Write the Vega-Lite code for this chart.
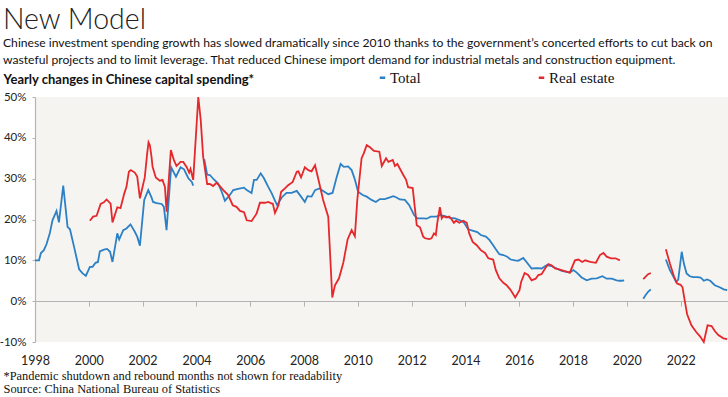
{
 "$schema": "https://vega.github.io/schema/vega-lite/v6.json",
 "width": 693, "height": 245,
 "autosize": {"type": "none"},
 "padding": {"left": 35, "top": 97, "right": 0, "bottom": 55},
 "background": "white",
 "title": {
  "text": "New Model",
  "subtitle": ["Chinese investment spending growth has slowed dramatically since 2010 thanks to the government’s concerted efforts to cut back on", "wasteful projects and to limit leverage. That reduced Chinese import demand for industrial metals and construction equipment."],
  "anchor": "start", "frame": "group", "dx": -32, "font": "Lato", "fontSize": 28.5, "fontWeight": 300, "color": "#222",
  "subtitleFont": "Lato", "subtitleFontSize": 12.15, "subtitleColor": "#111", "subtitleLineHeight": 16.5, "subtitlePadding": 3, "offset": 4
 },
 "config": {"view": {"fill": "#f6f4f0", "stroke": null}},
 "data": {"values": [
  {"series":"Total","segment":1,"year":1998.0,"value":10.0},
  {"series":"Total","segment":1,"year":1998.15,"value":10.0},
  {"series":"Total","segment":1,"year":1998.22,"value":11.8},
  {"series":"Total","segment":1,"year":1998.33,"value":12.5},
  {"series":"Total","segment":1,"year":1998.43,"value":14.0},
  {"series":"Total","segment":1,"year":1998.55,"value":16.6},
  {"series":"Total","segment":1,"year":1998.65,"value":19.8},
  {"series":"Total","segment":1,"year":1998.8,"value":22.1},
  {"series":"Total","segment":1,"year":1998.89,"value":19.3},
  {"series":"Total","segment":1,"year":1999.05,"value":28.3},
  {"series":"Total","segment":1,"year":1999.21,"value":18.2},
  {"series":"Total","segment":1,"year":1999.3,"value":17.6},
  {"series":"Total","segment":1,"year":1999.48,"value":12.5},
  {"series":"Total","segment":1,"year":1999.64,"value":7.8},
  {"series":"Total","segment":1,"year":1999.77,"value":6.8},
  {"series":"Total","segment":1,"year":1999.89,"value":6.2},
  {"series":"Total","segment":1,"year":2000.04,"value":8.4},
  {"series":"Total","segment":1,"year":2000.14,"value":8.4},
  {"series":"Total","segment":1,"year":2000.25,"value":9.4},
  {"series":"Total","segment":1,"year":2000.34,"value":9.6},
  {"series":"Total","segment":1,"year":2000.41,"value":12.2},
  {"series":"Total","segment":1,"year":2000.56,"value":12.6},
  {"series":"Total","segment":1,"year":2000.68,"value":12.8},
  {"series":"Total","segment":1,"year":2000.79,"value":12.1},
  {"series":"Total","segment":1,"year":2000.88,"value":9.6},
  {"series":"Total","segment":1,"year":2001.06,"value":16.6},
  {"series":"Total","segment":1,"year":2001.13,"value":15.1},
  {"series":"Total","segment":1,"year":2001.28,"value":17.4},
  {"series":"Total","segment":1,"year":2001.4,"value":17.8},
  {"series":"Total","segment":1,"year":2001.55,"value":18.8},
  {"series":"Total","segment":1,"year":2001.71,"value":17.0},
  {"series":"Total","segment":1,"year":2001.8,"value":15.8},
  {"series":"Total","segment":1,"year":2001.9,"value":13.6},
  {"series":"Total","segment":1,"year":2002.06,"value":24.8},
  {"series":"Total","segment":1,"year":2002.21,"value":27.2},
  {"series":"Total","segment":1,"year":2002.33,"value":25.4},
  {"series":"Total","segment":1,"year":2002.39,"value":24.3},
  {"series":"Total","segment":1,"year":2002.52,"value":24.0},
  {"series":"Total","segment":1,"year":2002.71,"value":23.8},
  {"series":"Total","segment":1,"year":2002.79,"value":23.1},
  {"series":"Total","segment":1,"year":2002.89,"value":17.4},
  {"series":"Total","segment":1,"year":2003.06,"value":32.8},
  {"series":"Total","segment":1,"year":2003.24,"value":30.5},
  {"series":"Total","segment":1,"year":2003.41,"value":32.8},
  {"series":"Total","segment":1,"year":2003.54,"value":32.3},
  {"series":"Total","segment":1,"year":2003.7,"value":30.1},
  {"series":"Total","segment":1,"year":2003.83,"value":29.2},
  {"series":"Total","segment":1,"year":2003.88,"value":28.3},
  {"series":"Total","segment":2,"year":2004.29,"value":34.8},
  {"series":"Total","segment":2,"year":2004.4,"value":31.0},
  {"series":"Total","segment":2,"year":2004.5,"value":30.9},
  {"series":"Total","segment":2,"year":2004.65,"value":29.8},
  {"series":"Total","segment":2,"year":2004.81,"value":28.8},
  {"series":"Total","segment":2,"year":2004.94,"value":26.8},
  {"series":"Total","segment":2,"year":2005.06,"value":24.6},
  {"series":"Total","segment":2,"year":2005.21,"value":25.7},
  {"series":"Total","segment":2,"year":2005.37,"value":27.2},
  {"series":"Total","segment":2,"year":2005.55,"value":27.5},
  {"series":"Total","segment":2,"year":2005.77,"value":27.8},
  {"series":"Total","segment":2,"year":2005.87,"value":27.2},
  {"series":"Total","segment":2,"year":2006.05,"value":26.5},
  {"series":"Total","segment":2,"year":2006.14,"value":29.7},
  {"series":"Total","segment":2,"year":2006.24,"value":29.7},
  {"series":"Total","segment":2,"year":2006.39,"value":31.3},
  {"series":"Total","segment":2,"year":2006.51,"value":30.1},
  {"series":"Total","segment":2,"year":2006.67,"value":28.0},
  {"series":"Total","segment":2,"year":2006.8,"value":26.4},
  {"series":"Total","segment":2,"year":2006.92,"value":24.6},
  {"series":"Total","segment":2,"year":2007.0,"value":23.5},
  {"series":"Total","segment":2,"year":2007.17,"value":25.4},
  {"series":"Total","segment":2,"year":2007.35,"value":26.5},
  {"series":"Total","segment":2,"year":2007.54,"value":26.5},
  {"series":"Total","segment":2,"year":2007.73,"value":27.0},
  {"series":"Total","segment":2,"year":2007.89,"value":25.6},
  {"series":"Total","segment":2,"year":2008.03,"value":24.3},
  {"series":"Total","segment":2,"year":2008.13,"value":25.7},
  {"series":"Total","segment":2,"year":2008.28,"value":25.6},
  {"series":"Total","segment":2,"year":2008.41,"value":27.2},
  {"series":"Total","segment":2,"year":2008.57,"value":27.6},
  {"series":"Total","segment":2,"year":2008.71,"value":27.0},
  {"series":"Total","segment":2,"year":2008.9,"value":26.2},
  {"series":"Total","segment":2,"year":2009.06,"value":26.5},
  {"series":"Total","segment":2,"year":2009.21,"value":30.3},
  {"series":"Total","segment":2,"year":2009.36,"value":33.6},
  {"series":"Total","segment":2,"year":2009.48,"value":32.9},
  {"series":"Total","segment":2,"year":2009.64,"value":33.0},
  {"series":"Total","segment":2,"year":2009.77,"value":32.1},
  {"series":"Total","segment":2,"year":2009.89,"value":29.8},
  {"series":"Total","segment":2,"year":2010.01,"value":26.8},
  {"series":"Total","segment":2,"year":2010.18,"value":26.0},
  {"series":"Total","segment":2,"year":2010.33,"value":25.6},
  {"series":"Total","segment":2,"year":2010.51,"value":24.8},
  {"series":"Total","segment":2,"year":2010.67,"value":24.3},
  {"series":"Total","segment":2,"year":2010.82,"value":25.0},
  {"series":"Total","segment":2,"year":2011.0,"value":25.0},
  {"series":"Total","segment":2,"year":2011.19,"value":25.4},
  {"series":"Total","segment":2,"year":2011.32,"value":25.7},
  {"series":"Total","segment":2,"year":2011.44,"value":25.4},
  {"series":"Total","segment":2,"year":2011.56,"value":24.9},
  {"series":"Total","segment":2,"year":2011.75,"value":24.8},
  {"series":"Total","segment":2,"year":2011.91,"value":23.5},
  {"series":"Total","segment":2,"year":2012.09,"value":21.1},
  {"series":"Total","segment":2,"year":2012.21,"value":20.3},
  {"series":"Total","segment":2,"year":2012.43,"value":20.3},
  {"series":"Total","segment":2,"year":2012.56,"value":20.2},
  {"series":"Total","segment":2,"year":2012.71,"value":20.7},
  {"series":"Total","segment":2,"year":2012.93,"value":20.7},
  {"series":"Total","segment":2,"year":2013.05,"value":21.1},
  {"series":"Total","segment":2,"year":2013.24,"value":20.8},
  {"series":"Total","segment":2,"year":2013.43,"value":20.4},
  {"series":"Total","segment":2,"year":2013.61,"value":20.3},
  {"series":"Total","segment":2,"year":2013.8,"value":19.8},
  {"series":"Total","segment":2,"year":2013.95,"value":19.2},
  {"series":"Total","segment":2,"year":2014.1,"value":17.6},
  {"series":"Total","segment":2,"year":2014.29,"value":17.2},
  {"series":"Total","segment":2,"year":2014.44,"value":16.9},
  {"series":"Total","segment":2,"year":2014.57,"value":16.2},
  {"series":"Total","segment":2,"year":2014.76,"value":15.8},
  {"series":"Total","segment":2,"year":2014.89,"value":15.0},
  {"series":"Total","segment":2,"year":2015.03,"value":13.7},
  {"series":"Total","segment":2,"year":2015.13,"value":12.7},
  {"series":"Total","segment":2,"year":2015.26,"value":11.5},
  {"series":"Total","segment":2,"year":2015.41,"value":11.3},
  {"series":"Total","segment":2,"year":2015.55,"value":10.9},
  {"series":"Total","segment":2,"year":2015.68,"value":10.2},
  {"series":"Total","segment":2,"year":2015.84,"value":10.0},
  {"series":"Total","segment":2,"year":2015.96,"value":9.9},
  {"series":"Total","segment":2,"year":2016.15,"value":10.6},
  {"series":"Total","segment":2,"year":2016.27,"value":9.6},
  {"series":"Total","segment":2,"year":2016.46,"value":8.0},
  {"series":"Total","segment":2,"year":2016.65,"value":8.1},
  {"series":"Total","segment":2,"year":2016.83,"value":8.0},
  {"series":"Total","segment":2,"year":2017.02,"value":8.8},
  {"series":"Total","segment":2,"year":2017.2,"value":8.6},
  {"series":"Total","segment":2,"year":2017.39,"value":8.0},
  {"series":"Total","segment":2,"year":2017.58,"value":7.4},
  {"series":"Total","segment":2,"year":2017.76,"value":7.2},
  {"series":"Total","segment":2,"year":2017.88,"value":7.0},
  {"series":"Total","segment":2,"year":2018.01,"value":7.6},
  {"series":"Total","segment":2,"year":2018.14,"value":7.0},
  {"series":"Total","segment":2,"year":2018.32,"value":5.8},
  {"series":"Total","segment":2,"year":2018.51,"value":5.1},
  {"series":"Total","segment":2,"year":2018.69,"value":5.5},
  {"series":"Total","segment":2,"year":2018.88,"value":5.6},
  {"series":"Total","segment":2,"year":2019.09,"value":6.1},
  {"series":"Total","segment":2,"year":2019.25,"value":5.5},
  {"series":"Total","segment":2,"year":2019.44,"value":5.5},
  {"series":"Total","segment":2,"year":2019.62,"value":5.1},
  {"series":"Total","segment":2,"year":2019.74,"value":5.0},
  {"series":"Total","segment":2,"year":2019.81,"value":5.0},
  {"series":"Total","segment":2,"year":2019.9,"value":5.1},
  {"series":"Total","segment":3,"year":2020.61,"value":0.6},
  {"series":"Total","segment":3,"year":2020.7,"value":1.5},
  {"series":"Total","segment":3,"year":2020.79,"value":2.3},
  {"series":"Total","segment":3,"year":2020.89,"value":2.9},
  {"series":"Total","segment":4,"year":2021.45,"value":10.2},
  {"series":"Total","segment":4,"year":2021.6,"value":7.6},
  {"series":"Total","segment":4,"year":2021.73,"value":6.0},
  {"series":"Total","segment":4,"year":2021.83,"value":4.7},
  {"series":"Total","segment":4,"year":2021.91,"value":5.3},
  {"series":"Total","segment":4,"year":2022.04,"value":12.1},
  {"series":"Total","segment":4,"year":2022.12,"value":9.2},
  {"series":"Total","segment":4,"year":2022.22,"value":6.8},
  {"series":"Total","segment":4,"year":2022.34,"value":6.1},
  {"series":"Total","segment":4,"year":2022.47,"value":5.9},
  {"series":"Total","segment":4,"year":2022.62,"value":5.9},
  {"series":"Total","segment":4,"year":2022.74,"value":5.8},
  {"series":"Total","segment":4,"year":2022.86,"value":5.0},
  {"series":"Total","segment":4,"year":2022.98,"value":5.3},
  {"series":"Total","segment":4,"year":2023.1,"value":5.0},
  {"series":"Total","segment":4,"year":2023.27,"value":3.9},
  {"series":"Total","segment":4,"year":2023.45,"value":3.4},
  {"series":"Total","segment":4,"year":2023.6,"value":2.9},
  {"series":"Total","segment":4,"year":2023.73,"value":2.7},
  {"series":"Real estate","segment":1,"year":2000.04,"value":19.7},
  {"series":"Real estate","segment":1,"year":2000.16,"value":20.7},
  {"series":"Real estate","segment":1,"year":2000.29,"value":20.9},
  {"series":"Real estate","segment":1,"year":2000.44,"value":23.8},
  {"series":"Real estate","segment":1,"year":2000.56,"value":24.2},
  {"series":"Real estate","segment":1,"year":2000.66,"value":24.9},
  {"series":"Real estate","segment":1,"year":2000.81,"value":23.9},
  {"series":"Real estate","segment":1,"year":2000.88,"value":19.3},
  {"series":"Real estate","segment":1,"year":2001.06,"value":23.0},
  {"series":"Real estate","segment":1,"year":2001.18,"value":22.8},
  {"series":"Real estate","segment":1,"year":2001.32,"value":26.4},
  {"series":"Real estate","segment":1,"year":2001.4,"value":28.0},
  {"series":"Real estate","segment":1,"year":2001.49,"value":31.7},
  {"series":"Real estate","segment":1,"year":2001.56,"value":32.1},
  {"series":"Real estate","segment":1,"year":2001.71,"value":31.5},
  {"series":"Real estate","segment":1,"year":2001.8,"value":30.5},
  {"series":"Real estate","segment":1,"year":2001.9,"value":25.2},
  {"series":"Real estate","segment":1,"year":2002.08,"value":30.3},
  {"series":"Real estate","segment":1,"year":2002.17,"value":36.2},
  {"series":"Real estate","segment":1,"year":2002.22,"value":38.9},
  {"series":"Real estate","segment":1,"year":2002.27,"value":38.2},
  {"series":"Real estate","segment":1,"year":2002.33,"value":35.4},
  {"series":"Real estate","segment":1,"year":2002.37,"value":32.9},
  {"series":"Real estate","segment":1,"year":2002.49,"value":30.3},
  {"series":"Real estate","segment":1,"year":2002.64,"value":29.5},
  {"series":"Real estate","segment":1,"year":2002.74,"value":29.7},
  {"series":"Real estate","segment":1,"year":2002.83,"value":28.0},
  {"series":"Real estate","segment":1,"year":2002.89,"value":21.9},
  {"series":"Real estate","segment":1,"year":2003.05,"value":37.0},
  {"series":"Real estate","segment":1,"year":2003.16,"value":34.6},
  {"series":"Real estate","segment":1,"year":2003.26,"value":33.1},
  {"series":"Real estate","segment":1,"year":2003.41,"value":34.1},
  {"series":"Real estate","segment":1,"year":2003.51,"value":34.1},
  {"series":"Real estate","segment":1,"year":2003.64,"value":32.8},
  {"series":"Real estate","segment":1,"year":2003.73,"value":31.5},
  {"series":"Real estate","segment":1,"year":2003.78,"value":32.4},
  {"series":"Real estate","segment":1,"year":2003.88,"value":29.7},
  {"series":"Real estate","segment":1,"year":2004.07,"value":50.0},
  {"series":"Real estate","segment":1,"year":2004.16,"value":44.4},
  {"series":"Real estate","segment":1,"year":2004.25,"value":35.4},
  {"series":"Real estate","segment":1,"year":2004.4,"value":28.7},
  {"series":"Real estate","segment":1,"year":2004.5,"value":28.7},
  {"series":"Real estate","segment":1,"year":2004.62,"value":28.2},
  {"series":"Real estate","segment":1,"year":2004.75,"value":29.0},
  {"series":"Real estate","segment":1,"year":2004.87,"value":28.2},
  {"series":"Real estate","segment":1,"year":2005.0,"value":27.2},
  {"series":"Real estate","segment":1,"year":2005.18,"value":26.0},
  {"series":"Real estate","segment":1,"year":2005.35,"value":23.5},
  {"series":"Real estate","segment":1,"year":2005.49,"value":23.1},
  {"series":"Real estate","segment":1,"year":2005.62,"value":22.1},
  {"series":"Real estate","segment":1,"year":2005.77,"value":21.8},
  {"series":"Real estate","segment":1,"year":2005.87,"value":19.8},
  {"series":"Real estate","segment":1,"year":2006.05,"value":19.6},
  {"series":"Real estate","segment":1,"year":2006.24,"value":21.5},
  {"series":"Real estate","segment":1,"year":2006.36,"value":24.1},
  {"series":"Real estate","segment":1,"year":2006.55,"value":24.1},
  {"series":"Real estate","segment":1,"year":2006.67,"value":24.3},
  {"series":"Real estate","segment":1,"year":2006.8,"value":23.9},
  {"series":"Real estate","segment":1,"year":2006.84,"value":23.9},
  {"series":"Real estate","segment":1,"year":2006.92,"value":21.6},
  {"series":"Real estate","segment":1,"year":2007.05,"value":23.5},
  {"series":"Real estate","segment":1,"year":2007.15,"value":26.8},
  {"series":"Real estate","segment":1,"year":2007.29,"value":27.6},
  {"series":"Real estate","segment":1,"year":2007.41,"value":28.4},
  {"series":"Real estate","segment":1,"year":2007.58,"value":29.2},
  {"series":"Real estate","segment":1,"year":2007.73,"value":31.7},
  {"series":"Real estate","segment":1,"year":2007.79,"value":31.8},
  {"series":"Real estate","segment":1,"year":2007.89,"value":30.3},
  {"series":"Real estate","segment":1,"year":2008.03,"value":32.8},
  {"series":"Real estate","segment":1,"year":2008.16,"value":32.1},
  {"series":"Real estate","segment":1,"year":2008.28,"value":31.8},
  {"series":"Real estate","segment":1,"year":2008.41,"value":33.3},
  {"series":"Real estate","segment":1,"year":2008.57,"value":28.8},
  {"series":"Real estate","segment":1,"year":2008.71,"value":24.8},
  {"series":"Real estate","segment":1,"year":2008.9,"value":20.7},
  {"series":"Real estate","segment":1,"year":2009.05,"value":0.9},
  {"series":"Real estate","segment":1,"year":2009.15,"value":3.9},
  {"series":"Real estate","segment":1,"year":2009.3,"value":5.6},
  {"series":"Real estate","segment":1,"year":2009.46,"value":9.4},
  {"series":"Real estate","segment":1,"year":2009.62,"value":15.1},
  {"series":"Real estate","segment":1,"year":2009.77,"value":17.4},
  {"series":"Real estate","segment":1,"year":2009.89,"value":15.9},
  {"series":"Real estate","segment":1,"year":2009.98,"value":24.8},
  {"series":"Real estate","segment":1,"year":2010.14,"value":35.0},
  {"series":"Real estate","segment":1,"year":2010.22,"value":36.2},
  {"series":"Real estate","segment":1,"year":2010.33,"value":38.2},
  {"series":"Real estate","segment":1,"year":2010.45,"value":37.7},
  {"series":"Real estate","segment":1,"year":2010.6,"value":36.8},
  {"series":"Real estate","segment":1,"year":2010.8,"value":36.6},
  {"series":"Real estate","segment":1,"year":2010.89,"value":33.1},
  {"series":"Real estate","segment":1,"year":2011.05,"value":35.0},
  {"series":"Real estate","segment":1,"year":2011.14,"value":34.1},
  {"series":"Real estate","segment":1,"year":2011.3,"value":34.6},
  {"series":"Real estate","segment":1,"year":2011.38,"value":33.1},
  {"series":"Real estate","segment":1,"year":2011.47,"value":33.6},
  {"series":"Real estate","segment":1,"year":2011.56,"value":32.5},
  {"series":"Real estate","segment":1,"year":2011.69,"value":30.9},
  {"series":"Real estate","segment":1,"year":2011.79,"value":29.8},
  {"series":"Real estate","segment":1,"year":2011.87,"value":27.9},
  {"series":"Real estate","segment":1,"year":2012.04,"value":27.7},
  {"series":"Real estate","segment":1,"year":2012.19,"value":18.6},
  {"series":"Real estate","segment":1,"year":2012.31,"value":18.1},
  {"series":"Real estate","segment":1,"year":2012.43,"value":15.8},
  {"series":"Real estate","segment":1,"year":2012.5,"value":15.4},
  {"series":"Real estate","segment":1,"year":2012.65,"value":15.2},
  {"series":"Real estate","segment":1,"year":2012.74,"value":15.4},
  {"series":"Real estate","segment":1,"year":2012.83,"value":16.6},
  {"series":"Real estate","segment":1,"year":2012.9,"value":16.2},
  {"series":"Real estate","segment":1,"year":2012.95,"value":19.0},
  {"series":"Real estate","segment":1,"year":2013.05,"value":23.0},
  {"series":"Real estate","segment":1,"year":2013.12,"value":20.3},
  {"series":"Real estate","segment":1,"year":2013.17,"value":20.8},
  {"series":"Real estate","segment":1,"year":2013.3,"value":20.5},
  {"series":"Real estate","segment":1,"year":2013.4,"value":20.7},
  {"series":"Real estate","segment":1,"year":2013.49,"value":20.0},
  {"series":"Real estate","segment":1,"year":2013.57,"value":19.2},
  {"series":"Real estate","segment":1,"year":2013.65,"value":19.7},
  {"series":"Real estate","segment":1,"year":2013.77,"value":19.2},
  {"series":"Real estate","segment":1,"year":2013.92,"value":19.7},
  {"series":"Real estate","segment":1,"year":2014.05,"value":19.2},
  {"series":"Real estate","segment":1,"year":2014.14,"value":16.6},
  {"series":"Real estate","segment":1,"year":2014.27,"value":14.5},
  {"series":"Real estate","segment":1,"year":2014.42,"value":13.7},
  {"series":"Real estate","segment":1,"year":2014.57,"value":12.5},
  {"series":"Real estate","segment":1,"year":2014.73,"value":11.8},
  {"series":"Real estate","segment":1,"year":2014.85,"value":10.5},
  {"series":"Real estate","segment":1,"year":2015.03,"value":10.2},
  {"series":"Real estate","segment":1,"year":2015.13,"value":7.6},
  {"series":"Real estate","segment":1,"year":2015.26,"value":5.6},
  {"series":"Real estate","segment":1,"year":2015.41,"value":4.5},
  {"series":"Real estate","segment":1,"year":2015.53,"value":3.9},
  {"series":"Real estate","segment":1,"year":2015.66,"value":2.9},
  {"series":"Real estate","segment":1,"year":2015.75,"value":2.0},
  {"series":"Real estate","segment":1,"year":2015.85,"value":0.9},
  {"series":"Real estate","segment":1,"year":2016.01,"value":2.7},
  {"series":"Real estate","segment":1,"year":2016.07,"value":4.7},
  {"series":"Real estate","segment":1,"year":2016.2,"value":6.9},
  {"series":"Real estate","segment":1,"year":2016.33,"value":6.4},
  {"series":"Real estate","segment":1,"year":2016.46,"value":5.1},
  {"series":"Real estate","segment":1,"year":2016.61,"value":5.5},
  {"series":"Real estate","segment":1,"year":2016.71,"value":6.4},
  {"series":"Real estate","segment":1,"year":2016.83,"value":6.6},
  {"series":"Real estate","segment":1,"year":2016.96,"value":8.0},
  {"series":"Real estate","segment":1,"year":2017.08,"value":9.1},
  {"series":"Real estate","segment":1,"year":2017.2,"value":8.8},
  {"series":"Real estate","segment":1,"year":2017.33,"value":8.0},
  {"series":"Real estate","segment":1,"year":2017.48,"value":7.8},
  {"series":"Real estate","segment":1,"year":2017.66,"value":7.4},
  {"series":"Real estate","segment":1,"year":2017.88,"value":7.0},
  {"series":"Real estate","segment":1,"year":2018.07,"value":10.0},
  {"series":"Real estate","segment":1,"year":2018.2,"value":10.2},
  {"series":"Real estate","segment":1,"year":2018.34,"value":9.6},
  {"series":"Real estate","segment":1,"year":2018.45,"value":10.0},
  {"series":"Real estate","segment":1,"year":2018.64,"value":9.6},
  {"series":"Real estate","segment":1,"year":2018.85,"value":9.4},
  {"series":"Real estate","segment":1,"year":2019.0,"value":11.3},
  {"series":"Real estate","segment":1,"year":2019.13,"value":11.8},
  {"series":"Real estate","segment":1,"year":2019.25,"value":10.9},
  {"series":"Real estate","segment":1,"year":2019.41,"value":10.5},
  {"series":"Real estate","segment":1,"year":2019.58,"value":10.5},
  {"series":"Real estate","segment":1,"year":2019.74,"value":10.0},
  {"series":"Real estate","segment":2,"year":2020.61,"value":5.4},
  {"series":"Real estate","segment":2,"year":2020.7,"value":6.0},
  {"series":"Real estate","segment":2,"year":2020.79,"value":6.6},
  {"series":"Real estate","segment":2,"year":2020.89,"value":6.9},
  {"series":"Real estate","segment":3,"year":2021.45,"value":12.7},
  {"series":"Real estate","segment":3,"year":2021.6,"value":9.2},
  {"series":"Real estate","segment":3,"year":2021.75,"value":6.1},
  {"series":"Real estate","segment":3,"year":2021.87,"value":4.3},
  {"series":"Real estate","segment":3,"year":2022.0,"value":4.0},
  {"series":"Real estate","segment":3,"year":2022.07,"value":3.4},
  {"series":"Real estate","segment":3,"year":2022.15,"value":0.2},
  {"series":"Real estate","segment":3,"year":2022.24,"value":-3.2},
  {"series":"Real estate","segment":3,"year":2022.4,"value":-5.9},
  {"series":"Real estate","segment":3,"year":2022.57,"value":-7.5},
  {"series":"Real estate","segment":3,"year":2022.72,"value":-8.6},
  {"series":"Real estate","segment":3,"year":2022.86,"value":-10.0},
  {"series":"Real estate","segment":3,"year":2023.0,"value":-5.9},
  {"series":"Real estate","segment":3,"year":2023.15,"value":-6.1},
  {"series":"Real estate","segment":3,"year":2023.27,"value":-7.3},
  {"series":"Real estate","segment":3,"year":2023.4,"value":-8.3},
  {"series":"Real estate","segment":3,"year":2023.59,"value":-9.1},
  {"series":"Real estate","segment":3,"year":2023.73,"value":-9.3}
 ]},
 "mark": {"type": "line", "strokeWidth": 1.8},
 "encoding": {
  "x": {"field": "year", "type": "quantitative",
   "scale": {"domain": [1998, 2023.76], "nice": false, "zero": false},
   "axis": {"offset": -41, "grid": false, "domainColor": "#b3b3b3", "domainWidth": 1.2, "tickColor": "#b3b3b3", "tickSize": 5,
    "labelPadding": 48, "values": [1998,2000,2002,2004,2006,2008,2010,2012,2014,2016,2018,2020,2022], "format": "d",
    "labelFont": "Lato", "labelFontSize": 12.5, "labelColor": "#222", "labelFlush": false,
    "title": ["*Pandemic shutdown and rebound months not shown for readability", "Source: China National Bureau of Statistics"],
    "titleFont": "Liberation Serif", "titleFontSize": 12.4, "titleFontWeight": "normal", "titleColor": "#111",
    "titleX": -32, "titleY": 68, "titleAlign": "left", "titleAnchor": "start", "titleBaseline": "top", "titleLineHeight": 13}},
  "y": {"field": "value", "type": "quantitative",
   "scale": {"domain": [-10, 50], "nice": false},
   "axis": {"values": [-10,0,10,20,30,40,50], "labelExpr": "datum.value + '%'", "grid": false,
    "domainColor": "#b3b3b3", "domainWidth": 1.2, "tickColor": "#b3b3b3", "tickSize": 3, "labelPadding": 6,
    "labelFont": "Lato", "labelFontSize": 11.5, "labelColor": "#222",
    "title": "Yearly changes in Chinese capital spending*", "titleAngle": 0, "titleAlign": "left", "titleAnchor": "start",
    "titleBaseline": "middle", "titleX": -32, "titleY": -18, "titleFont": "Lato", "titleFontWeight": "bold", "titleFontSize": 13, "titleColor": "#111"}},
  "color": {"field": "series", "type": "nominal",
   "scale": {"domain": ["Total", "Real estate"], "range": ["#2b80c6", "#e5282c"]},
   "legend": {"orient": "none", "legendX": 340, "legendY": -27, "direction": "horizontal", "title": null,
    "symbolType": "stroke", "symbolSize": 30, "symbolStrokeWidth": 2.5, "labelFont": "Liberation Serif", "labelFontSize": 15,
    "labelColor": "#111", "labelOffset": 0, "columnPadding": 112}},
  "detail": {"field": "segment", "type": "nominal"}
 }
}
